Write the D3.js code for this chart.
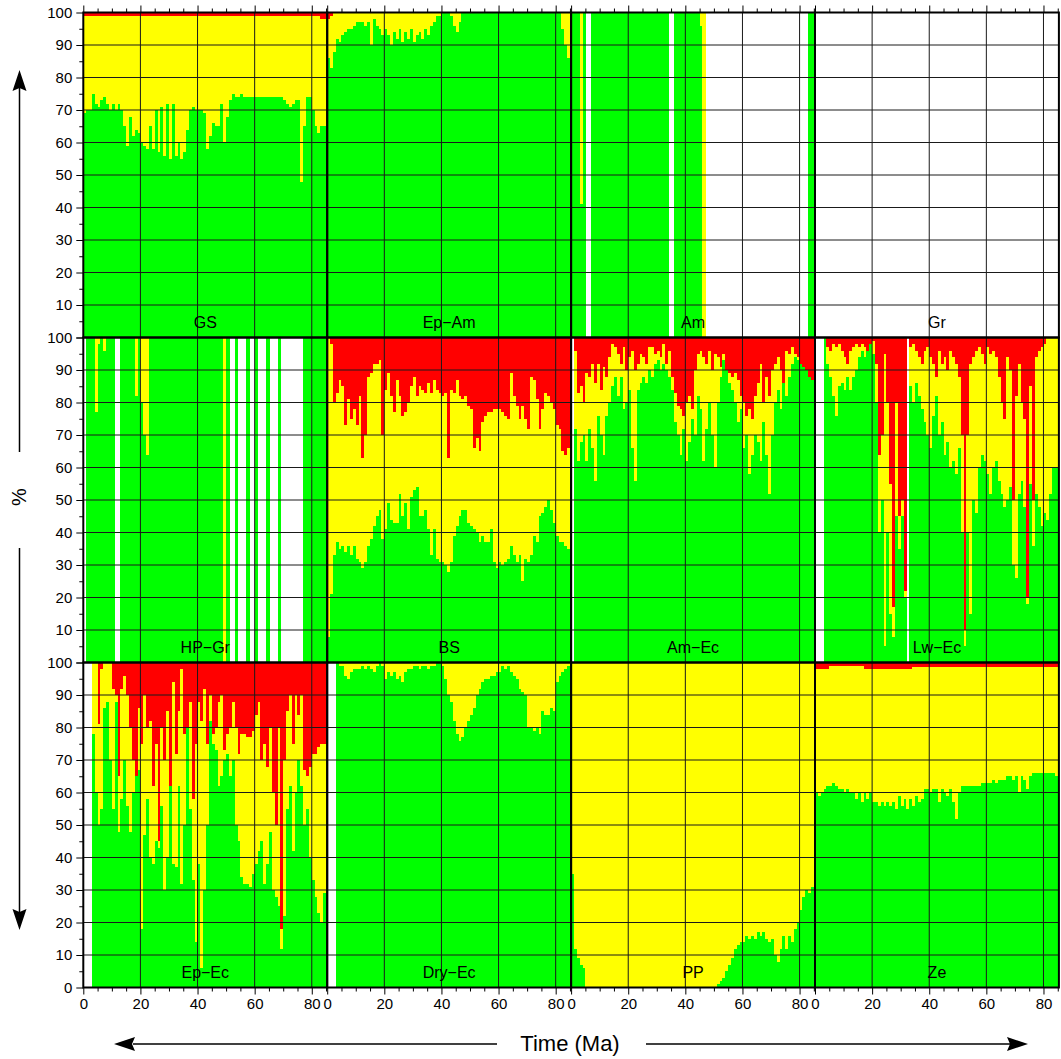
<!DOCTYPE html>
<html>
<head>
<meta charset="utf-8">
<script src="https://cdn.jsdelivr.net/npm/d3@7"></script>
<style>
  body { margin: 0; background: #fff; }
  text { font-family: "Liberation Sans", Arial, Helvetica, sans-serif; fill: #000; }
</style>
</head>
<body>
<div id="chart"></div>
<script>
// Bins of 1 Ma, start times 0..85
const timeMa = d3.range(0, 86);
const xTicks = [0, 20, 40, 60, 80];
const yTicks = [0, 10, 20, 30, 40, 50, 60, 70, 80, 90, 100];

// green = % in the lower (green) layer, red = % in the top (red) layer,
// the rest is yellow. null = no data for that interval (left white).
const gsGreen = [69,70,70,75,72,71,73,74,72,70, 72,70,72,70,65,59,68,62,64,63,
  60,59,58,65,58,70,57,71,56,72, 55,72,56,60,55,57,64,70,71,70,
  70,70,69,58,62,66,65,65,72,60, 68,73,75,74,74,75,74,74,74,74,
  74,74,74,74,74,74,74,74,74,74, 73,72,71,72,73,73,48,65,74,74,
  70,65,63,65,65,65];
const gsRed = [1,1,1,1,1,1,1,1,1,1, 1,1,1,1,1,1,1,1,1,1, 1,1,1,1,1,1,1,1,1,1,
  1,1,1,1,1,1,1,1,1,1, 1,1,1,1,1,1,1,1,1,1, 1,1,1,1,1,1,1,1,1,1,
  1,1,1,1,1,1,1,1,1,1, 1,1,1,1,1,1,1,1,1,1, 1,1,1,2,2,1];

const epAmGreen = [86,83,88,92,91,93,94,95,95,96, 97,97,97,96,97,90,98,96,95,93,
  95,93,90,94,92,95,91,94,92,95, 91,93,94,92,95,93,96,97,99,99,
  100,100,100,99,96,94,97,100,100,100, 100,100,100,100,100,100,100,100,100,100,
  100,100,100,100,100,100,100,100,100,100, 100,100,100,100,100,100,100,100,100,100,
  100,100,95,90,86,84];
const epAmRed = [2,1];

const amGreen = [100,100,100,41,100,null,null,100,100,100,
  100,100,100,100,100,100,100,100,100,100, 100,100,100,100,100,100,100,100,100,100,
  100,100,100,100,null,null,100,100,100,100, 100,100,100,100,100,96,0,null,null,null,
  null,null,null,null,null,null,null,null,null,null, null,null,null,null,null,null,null,null,null,null,
  null,null,null,null,null,null,null,null,null,null, null,null,null,100,100,null];
const amRed = [];

const grGreen = [];
const grRed = [];

const hpGrGreen = [null,100,100,100,77,98,100,96,100,100,
  100,null,null,100,100,100,100,100,82,100, 80,70,64,100,100,100,100,100,100,100,
  100,100,100,100,100,100,100,100,100,100, 100,100,100,100,100,100,100,100,100,0,
  100,null,null,100,null,null,null,100,null,null, 100,null,null,null,100,null,null,null,100,null,
  null,null,null,null,null,null,null,100,100,100, 100,100,100,100,100,null];
const hpGrRed = [];

const bsGreen = [8,21,33,37,35,36,34,36,33,36, 32,31,29,31,36,38,42,45,47,38,
  41,49,44,43,43,52,45,49,41,51, 53,54,45,45,47,41,33,41,32,31,
  31,30,28,31,39,42,45,47,47,43, 42,41,40,37,39,37,37,41,31,29,
  31,30,31,32,36,33,31,33,25,32, 31,33,39,37,45,46,48,50,47,43,
  39,37,37,36,35,35];
const bsRed = [0,2,20,17,13,15,27,19,25,22, 27,18,37,30,12,11,8,8,7,30,
  16,11,18,23,13,18,24,23,20,15, 12,18,15,16,17,14,17,13,16,17,
  18,17,37,16,17,13,18,19,18,21, 22,34,31,35,26,24,23,23,22,22,
  22,23,24,25,11,18,21,25,21,25, 28,12,13,19,28,22,17,18,20,22,
  27,28,35,36,34,34];

const amEcGreen = [null,72,62,68,70,62,72,66,56,76, 70,64,76,80,85,88,82,88,78,80,
  84,66,56,84,86,88,86,90,88,92, 93,90,92,90,88,84,74,70,64,72,
  62,68,75,70,82,78,62,72,80,70, 60,80,88,93,90,86,84,80,74,78,
  66,70,58,64,70,68,62,74,64,52, 70,80,84,78,86,82,88,92,94,93,
  92,91,90,88,87,87];
const amEcRed = [0,4,17,15,20,11,12,8,14,8, 16,9,12,6,2,3,5,8,3,10,
  6,4,10,8,5,6,8,3,3,5, 4,6,2,8,4,12,17,21,22,24,
  20,18,22,10,5,4,6,8,4,10, 5,6,9,5,10,11,12,11,13,18,
  20,24,22,25,18,14,8,20,12,18, 10,8,6,10,14,4,5,3,5,6,
  8,9,10,12,13,13];

const lwEcGreen = [null,null,null,100,92,88,82,76,85,86, 84,88,84,88,90,94,96,94,96,98,
  95,80,40,50,5,40,15,8,45,35, 45,20,null,85,80,86,82,78,74,70,
  66,76,82,70,74,64,68,60,62,58, 66,40,5,40,15,50,46,60,64,62,
  58,52,60,62,56,52,48,50,54,30, 26,52,56,48,18,55,36,52,48,42,
  46,44,52,60,60,60];
const lwEcRed = [0,0,0,0,3,4,2,3,2,4, 6,8,4,3,2,3,2,3,4,2,
  1,8,36,30,5,20,45,83,20,55, 50,78,0,3,2,4,6,8,4,3,
  6,8,12,4,8,6,10,4,6,8, 12,30,90,30,8,6,4,3,5,8,
  3,5,4,6,12,20,25,6,10,50, 18,8,20,25,80,15,50,6,4,3,
  2,0,0,0,0,0];

const epEcGreen = [null,null,null,78,60,50,55,86,88,70, 55,88,48,58,70,56,48,60,65,67,
  18,47,58,40,38,45,43,56,30,40, 62,38,37,62,32,50,80,55,33,14,
  38,6,30,50,82,75,73,62,65,70, 72,65,70,50,45,34,32,32,31,35,
  38,42,45,32,38,48,30,28,25,12, 22,55,62,42,60,70,62,50,55,40,
  33,28,23,20,29,29];
const epEcRed = [0,0,0,0,0,19,2,0,0,0, 8,10,35,8,4,10,20,30,35,14,
  25,10,20,18,38,25,55,20,30,15, 38,6,28,15,2,22,20,12,42,25,
  12,18,8,25,10,22,20,12,10,27, 22,20,12,20,28,22,22,23,23,21,
  16,12,30,25,32,20,40,50,20,82, 30,15,10,25,10,16,10,33,35,32,
  28,28,26,25,25,25];

const dryEcGreen = [null,null,null,100,99,99,96,95,97,98, 98,98,99,98,99,98,97,99,100,99,
  95,97,96,97,95,96,94,97,98,98, 99,99,98,99,99,98,99,99,100,100,
  99,95,90,88,82,78,76,77,80,82, 84,86,90,92,94,95,95,96,96,97,
  97,99,98,99,97,96,95,92,91,90, 80,80,79,80,78,85,84,84,86,85,
  94,96,97,98,99,99];
const dryEcRed = [];

const ppGreen = [35,12,9,7,6,0,0,0,0,0, 0,0,0,0,0,0,0,0,0,0,
  0,0,0,0,0,0,0,0,0,0, 0,0,0,0,0,0,0,0,0,0,
  0,0,0,0,0,0,0,0,0,0, 0,1,2,3,5,7,9,12,13,14,
  14,16,15,16,15,17,16,17,15,14, 15,10,8,12,16,12,16,14,18,20,
  24,28,30,29,31,33];
const ppRed = [];

const zeGreen = [60,59,60,61,62,62,63,62,61,61, 60,61,60,60,58,60,57,60,58,60,
  57,57,56,57,56,57,56,57,55,59, 56,58,55,58,56,59,57,58,61,61,
  60,61,61,57,61,60,59,61,57,52, 60,62,62,62,62,62,62,62,63,63,
  63,63,64,63,64,64,64,65,65,64, 65,60,65,64,61,65,66,66,66,66,
  66,66,66,66,65,65];
const zeRed = [2,2,2,2,2,1,1,1,1,1, 1,1,1,1,1,1,1,2,2,2,
  2,2,2,2,2,2,2,2,2,2, 2,2,2,2,1.5,1.5,1.5,1.5,1.5,1.5,
  1.5,1.5,1.5,1.5,1.5,1.5,1.5,1.5,1.5,1.5, 1.5,1.5,1.5,1.5,1.5,1.5,1.5,1.5,1.5,1.5,
  1.5,1.5,1.5,1.5,1.5,1.5,1.5,1.5,1.5,1.5, 1.5,1.5,1.5,1.5,1.5,1.5,1.5,1.5,1.5,1.5,
  1.5,1.5,1.5,1.5,1.5,1.5];

const panelNames = ["GS", "Ep\u2212Am", "Am", "Gr", "HP\u2212Gr", "BS", "Am\u2212Ec", "Lw\u2212Ec",
  "Ep\u2212Ec", "Dry\u2212Ec", "PP", "Ze"];
const greens = [gsGreen, epAmGreen, amGreen, grGreen, hpGrGreen, bsGreen, amEcGreen, lwEcGreen,
  epEcGreen, dryEcGreen, ppGreen, zeGreen];
const reds = [gsRed, epAmRed, amRed, grRed, hpGrRed, bsRed, amEcRed, lwEcRed,
  epEcRed, dryEcRed, ppRed, zeRed];

// Layout
const width = 1061, height = 1059;
const plotLeft = 83.3, plotTop = 12.5;
const pw = 243.9, ph = 325;
const xMax = 85.4;

const svg = d3.select("#chart").append("svg")
  .attr("width", width)
  .attr("height", height)
  .style("background", "#fff");

const defs = svg.append("defs");

panelNames.forEach((name, i) => {
  const col = i % 4, row = Math.floor(i / 4);
  const x0 = plotLeft + col * pw, y0 = plotTop + row * ph;
  const x = d3.scaleLinear().domain([0, xMax]).range([x0, x0 + pw]);
  const y = d3.scaleLinear().domain([0, 100]).range([y0 + ph, y0]);

  defs.append("clipPath").attr("id", "clip" + i)
    .append("rect").attr("x", x0).attr("y", y0).attr("width", pw).attr("height", ph);

  const bins = timeMa
    .map((t, k) => ({ t, green: greens[i][k], red: reds[i][k] || 0 }))
    .filter((d) => d.green != null);

  const bars = svg.append("g")
    .attr("clip-path", `url(#clip${i})`)
    .attr("shape-rendering", "crispEdges")
    .selectAll("g")
    .data(bins)
    .join("g");

  const bw = (d) => x(d.t + 1) - x(d.t) + 0.6;

  bars.append("rect") // yellow (middle layer) as the background of the bin
    .attr("x", (d) => x(d.t))
    .attr("y", y(100))
    .attr("width", bw)
    .attr("height", y(0) - y(100))
    .attr("fill", "#ffff00");
  bars.append("rect") // green
    .attr("x", (d) => x(d.t))
    .attr("y", (d) => y(d.green))
    .attr("width", bw)
    .attr("height", (d) => y(0) - y(d.green))
    .attr("fill", "#00ff00");
  bars.append("rect") // red
    .attr("x", (d) => x(d.t))
    .attr("y", y(100))
    .attr("width", bw)
    .attr("height", (d) => y(100 - d.red) - y(100))
    .attr("fill", "#ff0000");

  // grid
  const grid = svg.append("g").attr("stroke", "#1a1a1a").attr("stroke-width", 1);
  grid.selectAll("line.h")
    .data(yTicks.slice(1, -1))
    .join("line")
    .attr("x1", x0).attr("x2", x0 + pw)
    .attr("y1", (d) => y(d)).attr("y2", (d) => y(d));
  grid.selectAll("line.v")
    .data(xTicks.slice(1))
    .join("line")
    .attr("x1", (d) => x(d)).attr("x2", (d) => x(d))
    .attr("y1", y0).attr("y2", y0 + ph);

  // panel label
  svg.append("text")
    .attr("x", x0 + pw / 2)
    .attr("y", y0 + ph - 10)
    .attr("text-anchor", "middle")
    .style("font-size", "16px")
    .text(name);
});

// panel frames
for (let r = 0; r < 3; r++) {
  for (let c = 0; c < 4; c++) {
    svg.append("rect")
      .attr("x", plotLeft + c * pw).attr("y", plotTop + r * ph)
      .attr("width", pw).attr("height", ph)
      .attr("fill", "none").attr("stroke", "#000").attr("stroke-width", 2);
  }
}

// axes
const minorX = d3.range(5, xMax, 5).filter((v) => v % 20 !== 0);
const minorY = d3.range(5, 100, 10);
for (let c = 0; c < 4; c++) {
  const x = d3.scaleLinear().domain([0, xMax]).range([plotLeft + c * pw, plotLeft + (c + 1) * pw]);
  const bottom = svg.append("g").attr("transform", `translate(0,${plotTop + 3 * ph})`);
  bottom.call(d3.axisBottom(x).tickValues(xTicks).tickSize(7).tickPadding(4));
  bottom.append("g").call(d3.axisBottom(x).tickValues(minorX).tickSize(4).tickFormat(""));
  const topAxis = svg.append("g").attr("transform", `translate(0,${plotTop})`);
  topAxis.call(d3.axisTop(x).tickValues(xTicks).tickSize(7).tickFormat(""));
  topAxis.append("g").call(d3.axisTop(x).tickValues(minorX).tickSize(4).tickFormat(""));
}
for (let r = 0; r < 3; r++) {
  const y = d3.scaleLinear().domain([0, 100]).range([plotTop + (r + 1) * ph, plotTop + r * ph]);
  const ax = svg.append("g").attr("transform", `translate(${plotLeft},0)`);
  // the 0 of the upper rows sits under the 100 of the row below
  ax.call(d3.axisLeft(y).tickValues(yTicks).tickSize(7).tickPadding(4)
    .tickFormat((d) => (r < 2 && d === 0 ? "" : d)));
  ax.append("g").call(d3.axisLeft(y).tickValues(minorY).tickSize(4).tickFormat(""));
}
svg.selectAll(".domain").remove();
svg.selectAll(".tick line").attr("stroke", "#000").attr("stroke-width", 1);
svg.selectAll(".tick text")
  .style("font-size", "15px")
  .style("font-family", "'Liberation Sans', Arial, sans-serif")
  .attr("fill", "#000");

// y title with arrows
svg.append("text")
  .attr("transform", "translate(26,497) rotate(-90)")
  .attr("text-anchor", "middle")
  .style("font-size", "20px")
  .text("%");

const arrows = svg.append("g").attr("stroke", "#000").attr("stroke-width", 1.5);
arrows.append("line").attr("x1", 19.5).attr("x2", 19.5).attr("y1", 452).attr("y2", 88);
arrows.append("line").attr("x1", 19.5).attr("x2", 19.5).attr("y1", 548).attr("y2", 912);
arrows.append("line").attr("x1", 133).attr("x2", 497).attr("y1", 1044).attr("y2", 1044);
arrows.append("line").attr("x1", 646).attr("x2", 1010).attr("y1", 1044).attr("y2", 1044);
const heads = svg.append("g").attr("fill", "#000");
heads.append("path").attr("d", "M19.5,70 L26.5,91 L19.5,88 L12.5,91 Z");
heads.append("path").attr("d", "M19.5,930 L26.5,909 L19.5,912 L12.5,909 Z");
heads.append("path").attr("d", "M114,1044 L135,1037 L132,1044 L135,1051 Z");
heads.append("path").attr("d", "M1028,1044 L1007,1037 L1010,1044 L1007,1051 Z");

svg.append("text")
  .attr("x", 570)
  .attr("y", 1051)
  .attr("text-anchor", "middle")
  .style("font-size", "22px")
  .text("Time (Ma)");
</script>
</body>
</html>
